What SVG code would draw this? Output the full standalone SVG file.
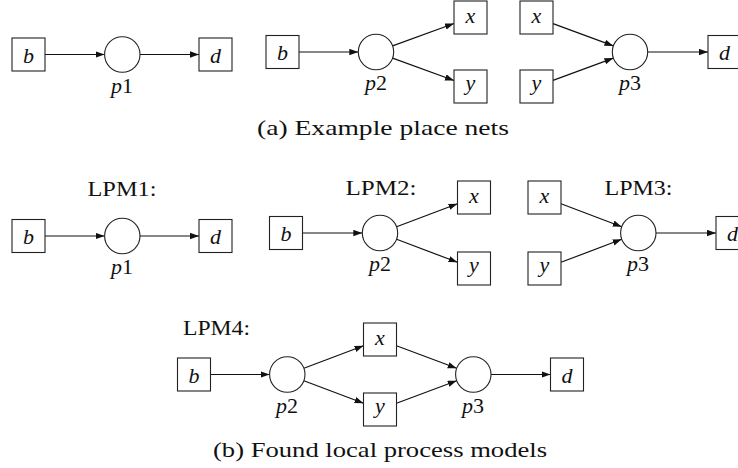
<svg xmlns="http://www.w3.org/2000/svg" width="738" height="468" viewBox="0 0 738 468">
  <style>
    .trans { fill: #fff; stroke: #222; stroke-width: 1.1; }
    .place { fill: #fff; stroke: #222; stroke-width: 1.1; }
    .arc { stroke: #111; stroke-width: 1.2; fill: none; marker-end: url(#tip); }
    text { font-family: "Liberation Serif", "DejaVu Serif", serif; font-size: 22px; fill: #111; }
    .var { font-style: italic; text-anchor: middle; }
    .plab { text-anchor: middle; }
    .i { font-style: italic; }
  </style>
  <defs>
    <marker id="tip" markerUnits="userSpaceOnUse" markerWidth="10" markerHeight="7" refX="9" refY="3.2" orient="auto">
      <path d="M0,0 L9,3.2 L0,6.4 Z" fill="#111"/>
    </marker>
  </defs>

  <rect width="738" height="468" fill="#fff"/>

  <!-- connectors -->
  <g id="arcs">
    <!-- (a) net 1 -->
    <line class="arc" x1="45" y1="54.5" x2="104.6" y2="54.5"/>
    <line class="arc" x1="140" y1="54.5" x2="199" y2="54.5"/>
    <!-- (a) net 2 -->
    <line class="arc" x1="299" y1="52" x2="358.3" y2="52"/>
    <line class="arc" x1="392.6" y1="45.9" x2="454" y2="23.5"/>
    <line class="arc" x1="392.6" y1="58.1" x2="454" y2="80.5"/>
    <!-- (a) net 3 -->
    <line class="arc" x1="553" y1="23.6" x2="613.4" y2="45.9"/>
    <line class="arc" x1="553" y1="80.4" x2="613.4" y2="58.1"/>
    <line class="arc" x1="647.7" y1="52" x2="708" y2="52"/>
    <!-- LPM1 -->
    <line class="arc" x1="45" y1="236" x2="104.6" y2="236"/>
    <line class="arc" x1="140" y1="236" x2="199" y2="236"/>
    <!-- LPM2 -->
    <line class="arc" x1="302.5" y1="233" x2="362.3" y2="233"/>
    <line class="arc" x1="396.6" y1="226.7" x2="457.5" y2="203.7"/>
    <line class="arc" x1="396.6" y1="239.3" x2="457.5" y2="262.3"/>
    <!-- LPM3 -->
    <line class="arc" x1="561" y1="203.7" x2="621.7" y2="226.7"/>
    <line class="arc" x1="561" y1="262.3" x2="621.7" y2="239.3"/>
    <line class="arc" x1="656" y1="233" x2="716" y2="233"/>
    <!-- LPM4 -->
    <line class="arc" x1="210.5" y1="374.5" x2="269.6" y2="374.5"/>
    <line class="arc" x1="303.9" y1="368.3" x2="363.5" y2="345.7"/>
    <line class="arc" x1="303.9" y1="380.7" x2="363.5" y2="403.3"/>
    <line class="arc" x1="396.5" y1="345.7" x2="456.7" y2="368.3"/>
    <line class="arc" x1="396.5" y1="403.3" x2="456.7" y2="380.7"/>
    <line class="arc" x1="491" y1="374.5" x2="550.5" y2="374.5"/>
  </g>

  <!-- (a) net 1 -->
  <g id="a1-b"><rect class="trans" x="12" y="38" width="33" height="33"/><text class="var" x="28.5" y="62.5">b</text></g>
  <g id="a1-p1"><circle class="place" cx="122.3" cy="54.5" r="17.7"/><text class="plab" x="122" y="92.5"><tspan class="i">p</tspan>1</text></g>
  <g id="a1-d"><rect class="trans" x="199" y="38" width="33" height="33"/><text class="var" x="215.5" y="62.5">d</text></g>

  <!-- (a) net 2 -->
  <g id="a2-b"><rect class="trans" x="266" y="35.5" width="33" height="33"/><text class="var" x="282.5" y="60">b</text></g>
  <g id="a2-p2"><circle class="place" cx="376" cy="52" r="17.7"/><text class="plab" x="376" y="90"><tspan class="i">p</tspan>2</text></g>
  <g id="a2-x"><rect class="trans" x="454" y="1" width="33" height="33"/><text class="var" x="470.5" y="22.5">x</text></g>
  <g id="a2-y"><rect class="trans" x="454" y="70" width="33" height="33"/><text class="var" x="470.5" y="89.5">y</text></g>

  <!-- (a) net 3 -->
  <g id="a3-x"><rect class="trans" x="520" y="1" width="33" height="33"/><text class="var" x="536.5" y="22.5">x</text></g>
  <g id="a3-y"><rect class="trans" x="520" y="70" width="33" height="33"/><text class="var" x="536.5" y="89.5">y</text></g>
  <g id="a3-p3"><circle class="place" cx="630" cy="52" r="17.7"/><text class="plab" x="630" y="90"><tspan class="i">p</tspan>3</text></g>
  <g id="a3-d"><rect class="trans" x="708" y="35.5" width="33" height="33"/><text class="var" x="724.5" y="60">d</text></g>

  <text x="383" y="135" text-anchor="middle" textLength="252" lengthAdjust="spacingAndGlyphs">(a) Example place nets</text>

  <!-- LPM1 -->
  <g id="lpm1">
    <text x="122" y="196" text-anchor="middle" textLength="69" lengthAdjust="spacingAndGlyphs">LPM1:</text>
    <g id="l1-b"><rect class="trans" x="12" y="219.5" width="33" height="33"/><text class="var" x="28.5" y="244">b</text></g>
    <g id="l1-p1"><circle class="place" cx="122.3" cy="236" r="17.7"/><text class="plab" x="122" y="274"><tspan class="i">p</tspan>1</text></g>
    <g id="l1-d"><rect class="trans" x="199" y="219.5" width="33" height="33"/><text class="var" x="215.5" y="244">d</text></g>
  </g>

  <!-- LPM2 -->
  <g id="lpm2">
    <text x="381" y="195" text-anchor="middle" textLength="71" lengthAdjust="spacingAndGlyphs">LPM2:</text>
    <g id="l2-b"><rect class="trans" x="269.5" y="216.5" width="33" height="33"/><text class="var" x="286" y="241">b</text></g>
    <g id="l2-p2"><circle class="place" cx="380" cy="233" r="17.7"/><text class="plab" x="380" y="271"><tspan class="i">p</tspan>2</text></g>
    <g id="l2-x"><rect class="trans" x="457.5" y="181" width="33" height="33"/><text class="var" x="474" y="202.5">x</text></g>
    <g id="l2-y"><rect class="trans" x="457.5" y="252" width="33" height="33"/><text class="var" x="474" y="271.5">y</text></g>
  </g>

  <!-- LPM3 -->
  <g id="lpm3">
    <text x="638.5" y="195" text-anchor="middle" textLength="68" lengthAdjust="spacingAndGlyphs">LPM3:</text>
    <g id="l3-x"><rect class="trans" x="528" y="181" width="33" height="33"/><text class="var" x="544.5" y="202.5">x</text></g>
    <g id="l3-y"><rect class="trans" x="528" y="252" width="33" height="33"/><text class="var" x="544.5" y="271.5">y</text></g>
    <g id="l3-p3"><circle class="place" cx="638.3" cy="233" r="17.7"/><text class="plab" x="638" y="271"><tspan class="i">p</tspan>3</text></g>
    <g id="l3-d"><rect class="trans" x="716" y="216.5" width="33" height="33"/><text class="var" x="732.5" y="241">d</text></g>
  </g>

  <!-- LPM4 -->
  <g id="lpm4">
    <text x="183" y="335" textLength="67" lengthAdjust="spacingAndGlyphs">LPM4:</text>
    <g id="l4-b"><rect class="trans" x="177.5" y="358" width="33" height="33"/><text class="var" x="194" y="382.5">b</text></g>
    <g id="l4-p2"><circle class="place" cx="287.3" cy="374.5" r="17.7"/><text class="plab" x="287" y="412.5"><tspan class="i">p</tspan>2</text></g>
    <g id="l4-x"><rect class="trans" x="363.5" y="323" width="33" height="33"/><text class="var" x="380" y="344.5">x</text></g>
    <g id="l4-y"><rect class="trans" x="363.5" y="393" width="33" height="33"/><text class="var" x="380" y="412.5">y</text></g>
    <g id="l4-p3"><circle class="place" cx="473.3" cy="374.5" r="17.7"/><text class="plab" x="473" y="412.5"><tspan class="i">p</tspan>3</text></g>
    <g id="l4-d"><rect class="trans" x="550.5" y="358" width="33" height="33"/><text class="var" x="567" y="382.5">d</text></g>
  </g>

  <text x="380" y="456.5" text-anchor="middle" textLength="334" lengthAdjust="spacingAndGlyphs">(b) Found local process models</text>
</svg>
